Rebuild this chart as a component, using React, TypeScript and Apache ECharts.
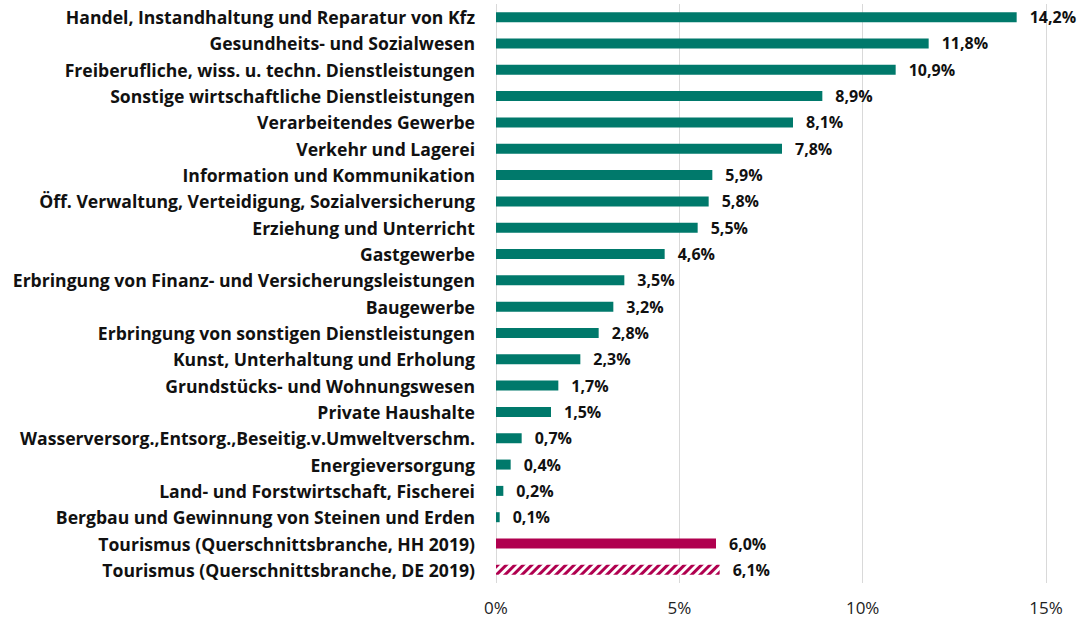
import React, { useEffect, useRef } from "react";
import * as echarts from "echarts";

const categories = [
  "Handel, Instandhaltung und Reparatur von Kfz",
  "Gesundheits- und Sozialwesen",
  "Freiberufliche, wiss. u. techn. Dienstleistungen",
  "Sonstige wirtschaftliche Dienstleistungen",
  "Verarbeitendes Gewerbe",
  "Verkehr und Lagerei",
  "Information und Kommunikation",
  "Öff. Verwaltung, Verteidigung, Sozialversicherung",
  "Erziehung und Unterricht",
  "Gastgewerbe",
  "Erbringung von Finanz- und Versicherungsleistungen",
  "Baugewerbe",
  "Erbringung von sonstigen Dienstleistungen",
  "Kunst, Unterhaltung und Erholung",
  "Grundstücks- und Wohnungswesen",
  "Private Haushalte",
  "Wasserversorg.,Entsorg.,Beseitig.v.Umweltverschm.",
  "Energieversorgung",
  "Land- und Forstwirtschaft, Fischerei",
  "Bergbau und Gewinnung von Steinen und Erden",
  "Tourismus (Querschnittsbranche, HH 2019)",
  "Tourismus (Querschnittsbranche, DE 2019)",
];

const values = [14.2, 11.8, 10.9, 8.9, 8.1, 7.8, 5.9, 5.8, 5.5, 4.6, 3.5, 3.2, 2.8, 2.3, 1.7, 1.5, 0.7, 0.4, 0.2, 0.1, 6.0, 6.1];

const xTicks = [0, 5, 10, 15];

const TEAL = "#00796B";
const MAGENTA = "#B0004F";
const FONT = "'Open Sans', Lato, sans-serif";

export default function App() {
  const ref = useRef<HTMLDivElement>(null);
  useEffect(() => {
    if (!ref.current) return;
    const chart = echarts.init(ref.current, null, { renderer: "svg" });
    const n = values.length;
    const data = values.map((v, i) => {
      if (i === n - 1) {
        return {
          value: v,
          itemStyle: {
            color: "#ffffff",
            decal: {
              symbol: "rect",
              color: MAGENTA,
              dashArrayX: [1, 0],
              dashArrayY: [3, 3],
              rotation: -Math.PI / 4,
              symbolSize: 1,
            },
          },
        };
      }
      return { value: v, itemStyle: { color: i === n - 2 ? MAGENTA : TEAL } };
    });
    chart.setOption({
      animation: false,
      backgroundColor: "#ffffff",
      grid: { left: 496, right: 36, top: 4, bottom: 35, containLabel: false },
      xAxis: {
        type: "value",
        min: 0,
        max: 15,
        interval: 5,
        axisLine: { show: false },
        axisTick: { show: false },
        splitLine: { show: true, lineStyle: { color: "#d9d9d9", width: 1 } },
        axisLabel: {
          margin: 15,
          fontFamily: FONT,
          fontSize: 17,
          lineHeight: 18,
          color: "#222",
          formatter: (v: number) => (xTicks.includes(v) ? `${v}%` : ""),
        },
      },
      yAxis: {
        type: "category",
        data: categories,
        inverse: true,
        axisLine: { show: false },
        axisTick: { show: false },
        axisLabel: {
          margin: 21,
          fontFamily: FONT,
          fontWeight: "bold",
          fontSize: 17.6,
          color: "#111",
        },
      },
      series: [
        {
          type: "bar",
          data,
          barWidth: 10,
          label: {
            show: true,
            position: "right",
            distance: 13,
            fontFamily: FONT,
            fontWeight: "bold",
            fontSize: 16,
            color: "#111",
            formatter: (p: any) => `${p.value.toFixed(1).replace(".", ",")}%`,
          },
        },
      ],
    });
    return () => chart.dispose();
  }, []);
  return (
    <div
      ref={ref}
      style={{ position: "fixed", left: 0, top: 0, width: 1082, height: 618 }}
    />
  );
}
